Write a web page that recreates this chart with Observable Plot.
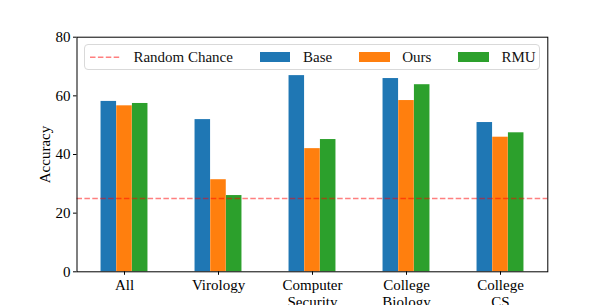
<!DOCTYPE html>
<html>
<head>
<meta charset="utf-8">
<script src="https://cdn.jsdelivr.net/npm/d3@7"></script>
<script src="https://cdn.jsdelivr.net/npm/@observablehq/plot@0.6"></script>
<style>
  body { margin: 0; background: white; }
  #wrap { position: relative; width: 609px; height: 305px; overflow: hidden; font-family: "Liberation Serif", "Times New Roman", Times, "DejaVu Serif", serif; }
  #wrap svg, #wrap svg text { font-family: "Liberation Serif", "Times New Roman", Times, "DejaVu Serif", serif !important; }
  #legend { position: absolute; left: 84px; top: 44px; width: 456px; height: 26px; box-sizing: border-box;
    border: 1px solid #d9d9d9; border-radius: 4px; background: rgba(255,255,255,0.8);
    display: flex; align-items: center; padding-left: 5px; font-size: 15px; color: #111; white-space: nowrap; }
  .item { display: flex; align-items: center; margin-right: 26.7px; flex: none; }
  .handle { width: 30.7px; height: 10.7px; margin-right: 12.7px; flex: none; }
  .lbl { line-height: 1; white-space: nowrap; }
</style>
</head>
<body>
<div id="wrap"></div>
<script>
const categories = ["All", "Virology", "Computer\nSecurity", "College\nBiology", "College\nCS"];
const methods = ["Base", "Ours", "RMU"];
const baseValues = [58.1, 51.9, 66.9, 65.9, 50.9];
const oursValues = [56.6, 31.4, 42.0, 58.4, 45.9];
const rmuValues = [57.4, 26.0, 45.1, 63.8, 47.4];
const randomChance = [25];
const randomChanceLabel = "Random Chance";
const yTicks = [0, 20, 40, 60, 80];
const colors = ["#1f77b4", "#ff7f0e", "#2ca02c"];

const valuesByMethod = [baseValues, oursValues, rmuValues];
const data = categories.flatMap((c, i) =>
  methods.map((m, j) => ({category: c, method: m, value: valuesByMethod[j][i]}))
);

const W = 609, H = 305, ML = 76.5, MR = 61.7, MT = 36.7, MB = 33.7;
const band = (W - ML - MR) / categories.length;
const barW = band / 6;
const inset = (band - barW) / 2;
const serif = '"Liberation Serif", "Times New Roman", Times, serif';

const chart = Plot.plot({
  width: W,
  height: H,
  marginLeft: ML,
  marginRight: MR,
  marginTop: MT,
  marginBottom: MB,
  style: {fontFamily: serif, fontSize: "15px", background: "white", color: "black", overflow: "visible"},
  x: {domain: categories, padding: 0, label: null},
  y: {domain: [0, 80], ticks: yTicks, label: "Accuracy"},
  color: {domain: methods, range: colors},
  marks: [
    ...methods.map((m, j) =>
      Plot.barY(data.filter(d => d.method === m), {
        x: "category", y: "value", fill: "method",
        insetLeft: inset, insetRight: inset, dx: (j - 1) * barW
      })
    ),
    Plot.ruleY(randomChance, {stroke: "red", strokeOpacity: 0.5, strokeDasharray: "5.5,2.4", strokeWidth: 1.5}),
    Plot.frame({stroke: "black", strokeWidth: 1}),
    Plot.axisY({ticks: yTicks, tickSize: 3.5, tickPadding: 3, label: "Accuracy", labelAnchor: "center", labelArrow: "none", labelOffset: 38}),
    Plot.axisX({anchor: "bottom", tickSize: 3.5, tickPadding: 3, label: null, lineHeight: 1.1})
  ]
});

const wrap = document.getElementById("wrap");
wrap.appendChild(chart);

// legend overlay
const legend = document.createElement("div");
legend.id = "legend";
const rc = document.createElement("div");
rc.className = "item";
rc.innerHTML = `<svg class="handle" viewBox="0 0 30.7 10.7" style="overflow:visible"><line x1="0" x2="30.7" y1="5.35" y2="5.35" stroke="red" stroke-opacity="0.5" stroke-width="1.5" stroke-dasharray="5.5,2.4"/></svg><span class="lbl"></span>`;
rc.querySelector(".lbl").textContent = randomChanceLabel;
legend.appendChild(rc);
methods.forEach((m, i) => {
  const it = document.createElement("div");
  it.className = "item";
  const h = document.createElement("div");
  h.className = "handle";
  h.style.background = colors[i];
  const t = document.createElement("span");
  t.className = "lbl";
  t.textContent = m;
  it.appendChild(h);
  it.appendChild(t);
  legend.appendChild(it);
});
wrap.appendChild(legend);
</script>
</body>
</html>
